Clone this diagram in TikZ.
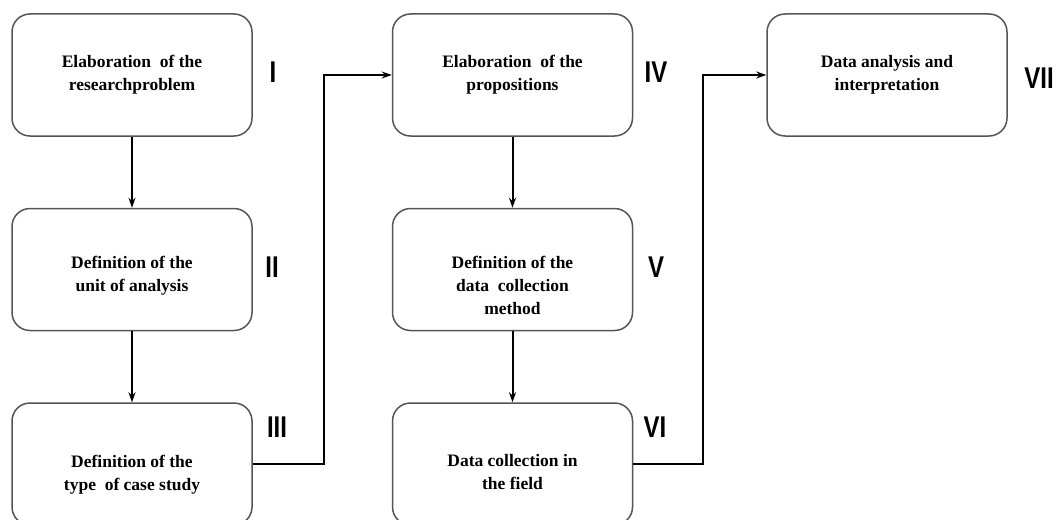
\documentclass[tikz,border=0pt]{standalone}
\usepackage{fontspec}
\setmainfont{Liberation Serif}
\newfontfamily\numfont{Liberation Sans}
\usetikzlibrary{positioning,arrows.meta}
\definecolor{boxline}{HTML}{555555}

\newcommand{\lowtext}[2]{\raisebox{-#1}[\height][\depth]{\begin{tabular}{@{}c@{}}#2\end{tabular}}}

\tikzset{
  stage/.style={draw=boxline, line width=1.5pt, rounded corners=18pt, fill=white,
    minimum width=240pt, minimum height=122pt, align=center,
    font=\fontsize{17.5}{23}\selectfont\bfseries},
  numlbl/.style={font=\numfont\fontsize{30}{30}\selectfont\bfseries, inner sep=0pt, xscale=0.8},
  flow/.style={line width=2pt, -{Stealth[length=10pt,width=7pt]}}
}

\begin{document}
\begin{tikzpicture}[x=1pt, y=1pt]
  \useasboundingbox (0,0) rectangle (1059,-519);

  % first column
  \node[stage] (probl) at (132,-75) {Elaboration \ of the\\ researchproblem};
  \node[stage, below=71pt of probl] (unit) {\lowtext{6pt}{Definition of the\\ unit of analysis}};
  \node[stage, below=71pt of unit] (casetype) {\lowtext{10pt}{Definition of the\\ type \ of case study}};

  % second column
  \node[stage, right=139pt of probl] (props) {Elaboration \ of the\\ propositions};
  \node[stage, below=71pt of props] (method) {\lowtext{17pt}{Definition of the\\ data \ collection\\ method}};
  \node[stage, below=71pt of method] (field) {\lowtext{9pt}{Data collection in\\ the field}};

  % third column
  \node[stage, right=133pt of props] (analysis) {Data analysis and\\ interpretation};

  % step numbers
  \node[numlbl] (nI) at (273,-72) {I};
  \node[numlbl] (nII) at (272,-267) {II};
  \node[numlbl] (nIII) at (277,-427) {III};
  \node[numlbl] (nIV) at (656,-72) {IV};
  \node[numlbl] (nV) at (656,-267) {V};
  \node[numlbl] (nVI) at (655,-427) {VI};
  \node[numlbl] (nVII) at (1039,-78) {VII};

  % arrows
  \draw[flow] (probl) -- (unit);
  \draw[flow] (unit) -- (casetype);
  \draw[flow] (props) -- (method);
  \draw[flow] (method) -- (field);
  \draw[flow] (casetype.east) -- ++(71pt,0) |- (props.west);
  \draw[flow] (field.east) -- ++(70pt,0) |- (analysis.west);
\end{tikzpicture}
\end{document}
